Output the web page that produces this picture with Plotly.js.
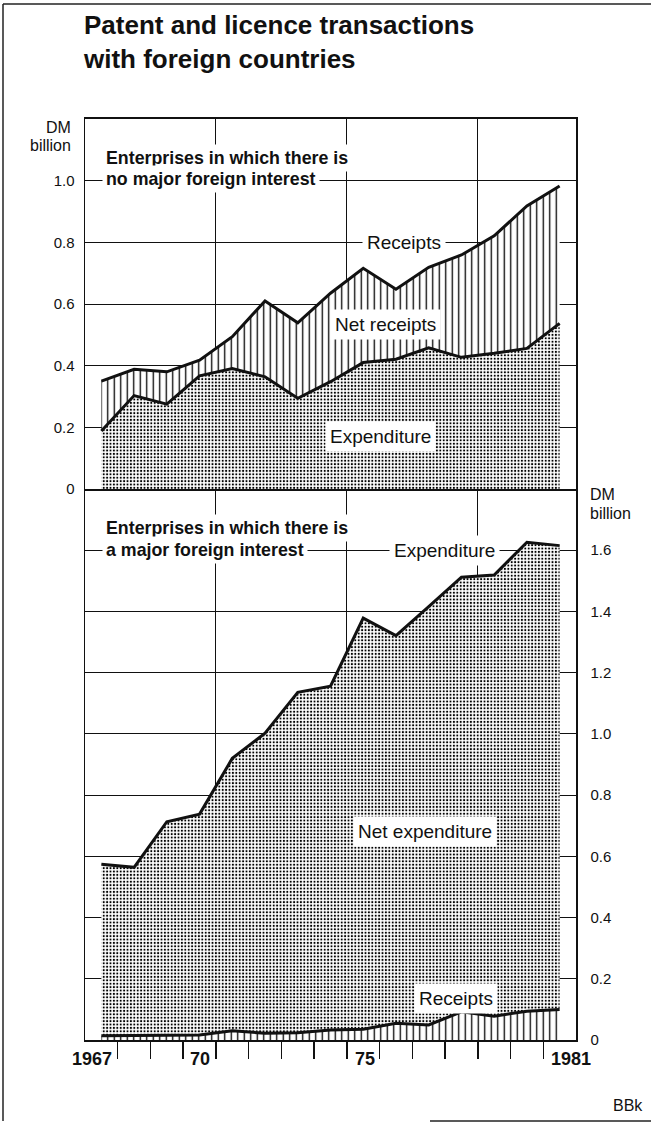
<!DOCTYPE html>
<html><head><meta charset="utf-8">
<script src="https://cdn.plot.ly/plotly-3.0.1.min.js"></script>
<style>html,body{margin:0;padding:0;background:#fff}#chart{width:651px;height:1122px}</style>
</head><body><div id="chart"></div>
<script>
// ---- data (DM billion) ----
const years = [1967,1968,1969,1970,1971,1972,1973,1974,1975,1976,1977,1978,1979,1980,1981];
// Enterprises with no major foreign interest
const noForeignReceipts    = [0.350,0.388,0.380,0.418,0.494,0.610,0.539,0.635,0.716,0.648,0.719,0.759,0.821,0.918,0.983];
const noForeignExpenditure = [0.188,0.303,0.275,0.367,0.391,0.364,0.294,0.348,0.410,0.421,0.458,0.427,0.440,0.456,0.537];
// Enterprises with a major foreign interest
const foreignReceipts      = [0.014,0.015,0.016,0.016,0.030,0.022,0.024,0.033,0.035,0.055,0.049,0.092,0.078,0.094,0.100];
const foreignExpenditure   = [0.574,0.564,0.713,0.738,0.920,1.002,1.136,1.156,1.378,1.321,1.416,1.512,1.519,1.626,1.615];

const topTickVals = [0,0.2,0.4,0.6,0.8,1.0];
const topTickText = ['0','0.2','0.4','0.6','0.8','1.0'];
const botTickVals = [0,0.2,0.4,0.6,0.8,1.0,1.2,1.4,1.6];
const botTickText = ['0','0.2','0.4','0.6','0.8','1.0','1.2','1.4','1.6'];
const gridYears = [1970.5,1974.5,1978.5];
const yearBoundaries = years.slice(0,-1).map(y => y + 0.5);
const yearLabelAt = [1967,1970,1975,1981];
const yearLabelText = ['1967','70','75','1981'];

const titleLines = ['Patent and licence transactions','with foreign countries'];
const topPanelLines = ['Enterprises in which there is','no major foreign interest'];
const botPanelLines = ['Enterprises in which there is','a major foreign interest'];

// ---- layout geometry ----
const W = 651, H = 1122, L = 85, R = 576, T = 119, B = 1040, MID = 489;
const xp = px => (px - L) / (R - L);
const yp = py => (B - py) / (B - T);
const split = yp(MID);

const FONT = '"Liberation Sans", Arial, Helvetica, sans-serif';
const INK = '#111';

const dots = {shape: '.', size: 3.4, solidity: 0.3, fgcolor: '#000', bgcolor: '#fff', fillmode: 'replace'};
const hatch = {shape: '|', size: 6.5, solidity: 0.2, fgcolor: '#000', bgcolor: '#fff', fillmode: 'replace'};
const lineStyle = {color: INK, width: 3};

const traces = [
  {x: years, y: noForeignExpenditure, xaxis: 'x2', yaxis: 'y2', type: 'scatter', mode: 'lines',
   line: lineStyle, fill: 'tozeroy', fillcolor: '#fff', fillpattern: dots, name: 'Expenditure'},
  {x: years, y: noForeignReceipts, xaxis: 'x2', yaxis: 'y2', type: 'scatter', mode: 'lines',
   line: lineStyle, fill: 'tonexty', fillcolor: '#fff', fillpattern: hatch, name: 'Receipts'},
  {x: years, y: foreignReceipts, xaxis: 'x', yaxis: 'y', type: 'scatter', mode: 'lines',
   line: lineStyle, fill: 'tozeroy', fillcolor: '#fff', fillpattern: hatch, name: 'Receipts'},
  {x: years, y: foreignExpenditure, xaxis: 'x', yaxis: 'y', type: 'scatter', mode: 'lines',
   line: lineStyle, fill: 'tonexty', fillcolor: '#fff', fillpattern: dots, name: 'Expenditure'}
];

const tickFont = {family: FONT, size: 15, color: INK};
const labFont = {family: FONT, size: 19, color: INK};
const boldFont = {family: FONT, size: 17.8, color: INK, weight: 700};

const annotations = [];
// panel headings
function panelLine(text, py) {
  annotations.push({text: text, xref: 'paper', yref: 'paper', x: xp(102), y: yp(py),
    xanchor: 'left', yanchor: 'middle', showarrow: false, bgcolor: '#fff', borderpad: 3, font: boldFont});
}
panelLine(topPanelLines[0], 158);
panelLine(topPanelLines[1], 179);
panelLine(botPanelLines[0], 528);
panelLine(botPanelLines[1], 550);
// series labels
function seriesLabel(text, x, y, xr, yr) {
  annotations.push({text: text, xref: xr, yref: yr, x: x, y: y, xanchor: 'center', yanchor: 'middle',
    showarrow: false, bgcolor: '#fff', borderpad: 4, font: labFont});
}
seriesLabel('Receipts', 1976.26, 0.8, 'x2', 'y2');
seriesLabel('Net receipts', 1975.68, 0.535, 'x2', 'y2');
seriesLabel('Expenditure', 1975.54, 0.17, 'x2', 'y2');
seriesLabel('Expenditure', 1977.49, 1.6, 'x', 'y');
seriesLabel('Net expenditure', 1976.89, 0.68, 'x', 'y');
seriesLabel('Receipts', 1977.84, 0.136, 'x', 'y');
// unit labels
const unitFont = {family: FONT, size: 16, color: INK};
annotations.push({text: 'DM', xref: 'paper', yref: 'paper', x: xp(73), y: yp(127.5), xanchor: 'right', yanchor: 'middle', showarrow: false, font: unitFont});
annotations.push({text: 'billion', xref: 'paper', yref: 'paper', x: xp(73), y: yp(145), xanchor: 'right', yanchor: 'middle', showarrow: false, font: unitFont});
annotations.push({text: 'DM', xref: 'paper', yref: 'paper', x: xp(588), y: yp(495), xanchor: 'left', yanchor: 'middle', showarrow: false, font: unitFont});
annotations.push({text: 'billion', xref: 'paper', yref: 'paper', x: xp(588), y: yp(513), xanchor: 'left', yanchor: 'middle', showarrow: false, font: unitFont});
annotations.push({text: 'BBk', xref: 'paper', yref: 'paper', x: xp(645), y: yp(1105), xanchor: 'right', yanchor: 'middle', showarrow: false, font: unitFont});
// year labels beside the boundary ticks
yearLabelAt.forEach((yr, i) => {
  const before = yr < 1973;
  annotations.push({text: yearLabelText[i], xref: 'x', yref: 'y', x: before ? yr + 0.5 : yr - 0.5, y: 0,
    xanchor: before ? 'right' : 'left', xshift: before ? -4 : 6, yshift: -19, yanchor: 'middle',
    showarrow: false, font: {family: FONT, size: 18, color: INK, weight: 700}});
});

const frame = {color: '#222', width: 1.5};
const shapes = [
  {type: 'line', xref: 'paper', yref: 'paper', x0: xp(3), x1: xp(3), y0: yp(4), y1: yp(1121), line: frame},
  {type: 'line', xref: 'paper', yref: 'paper', x0: xp(3), x1: xp(651), y0: yp(4), y1: yp(4), line: frame},
  {type: 'line', xref: 'paper', yref: 'paper', x0: xp(430), x1: xp(651), y0: yp(1121), y1: yp(1121), line: frame}
];

const gridCommon = {showgrid: true, gridcolor: INK, gridwidth: 1, zeroline: false, showline: true, linecolor: INK};

const layout = {
  width: W, height: H, margin: {l: L, r: W - R, t: T, b: H - B, pad: 0},
  paper_bgcolor: '#fff', plot_bgcolor: '#fff', showlegend: false,
  font: {family: FONT, color: INK},
  title: {text: titleLines.join('<br>'), xref: 'container', yref: 'container', x: 84 / W, xanchor: 'left',
    y: 1 - 34 / H, yanchor: 'middle', font: {family: FONT, size: 26, color: INK, weight: 700}},
  xaxis: Object.assign({}, gridCommon, {domain: [0, 1], anchor: 'y', range: [1966.5, 1981.5],
    tickmode: 'array', tickvals: gridYears, showticklabels: false, ticks: 'outside', ticklen: 17,
    tickwidth: 1.5, tickcolor: INK, linewidth: 2.2,
    minor: {tickmode: 'array', tickvals: yearBoundaries, ticks: 'outside', ticklen: 17, tickwidth: 1.5,
      tickcolor: INK, showgrid: false}}),
  xaxis2: Object.assign({}, gridCommon, {domain: [0, 1], anchor: 'y2', matches: 'x', range: [1966.5, 1981.5],
    tickmode: 'array', tickvals: gridYears, showticklabels: false, ticks: '', linewidth: 2.2, mirror: true}),
  yaxis: Object.assign({}, gridCommon, {domain: [0, split], anchor: 'x', range: [0, 1.8], side: 'right',
    tickmode: 'array', tickvals: botTickVals, ticktext: botTickText, ticks: '', ticklabelstandoff: 10,
    tickfont: tickFont, linewidth: 1.5, mirror: true}),
  yaxis2: Object.assign({}, gridCommon, {domain: [split, 1], anchor: 'x2', range: [0, 1.2], side: 'left',
    tickmode: 'array', tickvals: topTickVals, ticktext: topTickText, ticks: '', ticklabelstandoff: 6,
    tickfont: tickFont, linewidth: 1.5, mirror: true}),
  annotations: annotations,
  shapes: shapes
};

Plotly.newPlot('chart', traces, layout, {staticPlot: true, displayModeBar: false});
</script>
</body></html>
